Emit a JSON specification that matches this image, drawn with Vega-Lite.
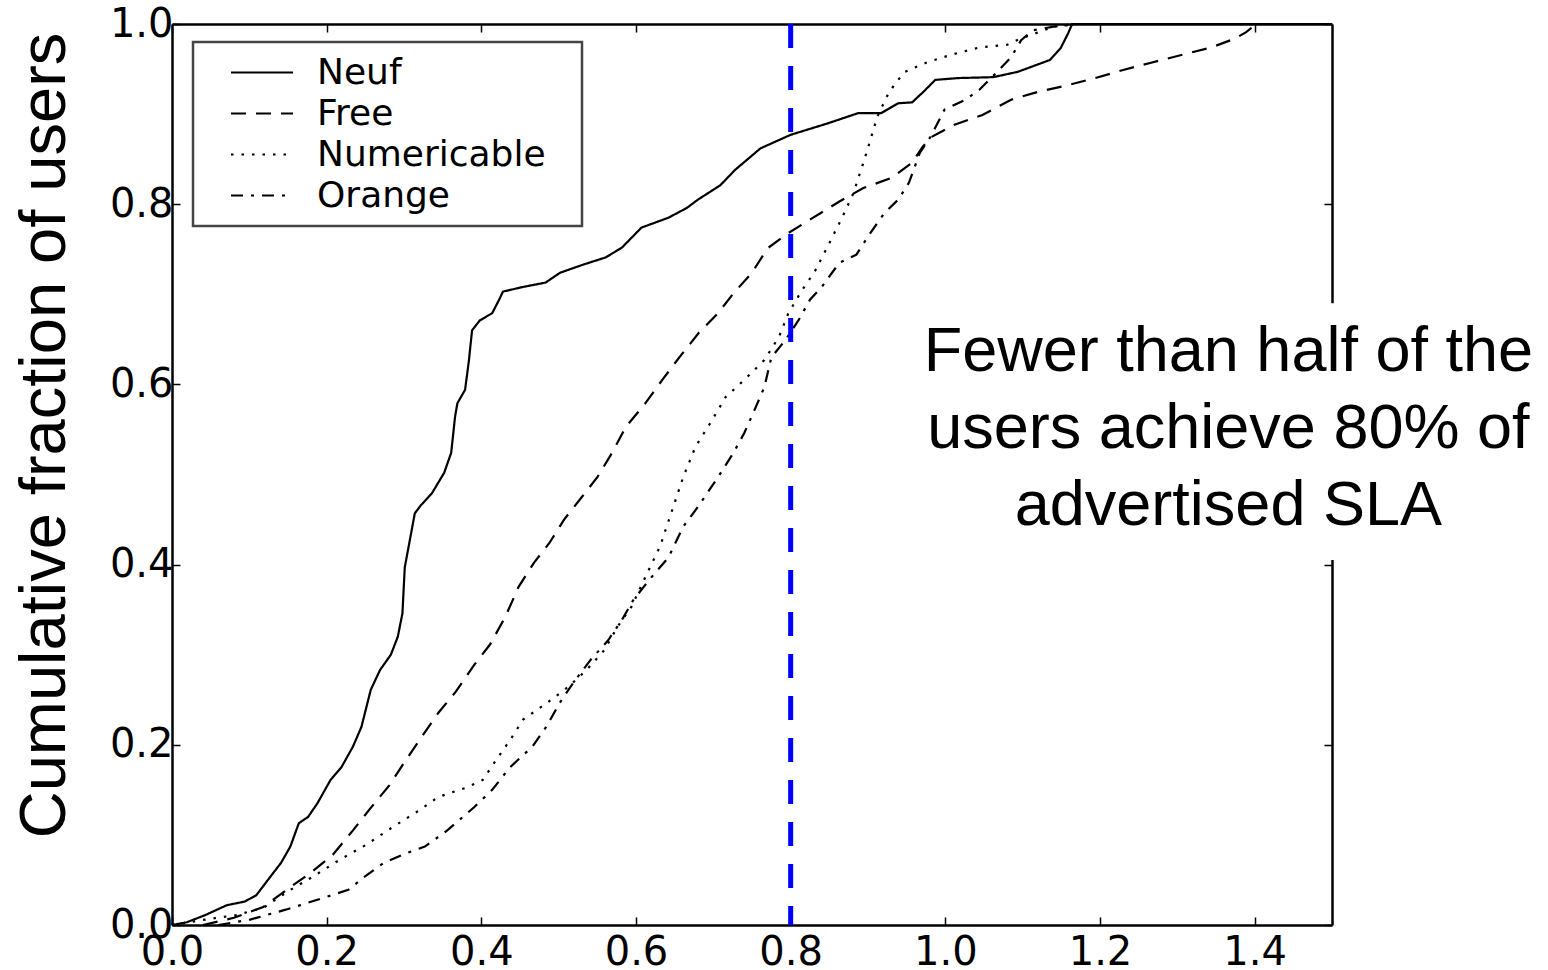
{
  "$schema": "https://vega.github.io/schema/vega-lite/v6.json",
  "width": 1160,
  "height": 901,
  "autosize": {"type": "none"},
  "padding": {"left": 172, "top": 24, "right": 216, "bottom": 45},
  "background": "white",
  "config": {
    "view": {"stroke": null},
    "axis": {
      "domainColor": "#000", "domainWidth": 2.5,
      "tickColor": "#000", "tickWidth": 1.5, "tickSize": -8,
      "labelFont": "DejaVu Sans", "labelFontSize": 40, "labelColor": "#000",
      "grid": false
    },
    "legend": {
      "orient": "none", "legendX": 21, "legendY": 18,
      "symbolType": "stroke", "symbolSize": 3844, "symbolStrokeWidth": 2, "symbolStrokeColor": "#000",
      "labelFont": "DejaVu Sans", "labelFontSize": 36, "labelColor": "#000", "labelLimit": 500,
      "labelOffset": 23, "symbolOffset": 27,
      "padding": 10, "rowPadding": 0, "clipHeight": 41,
      "strokeColor": "#444", "strokeWidth": 2.5, "fillColor": "white"
    }
  },
  "resolve": {"axis": {"x": "independent", "y": "independent"}},
  "layer": [
    {
      "data": {"values": [
        {"isp":"Neuf","x":0,"f":0},{"isp":"Neuf","x":0.019,"f":0.003},{"isp":"Neuf","x":0.043,"f":0.011},{"isp":"Neuf","x":0.071,"f":0.022},{"isp":"Neuf","x":0.094,"f":0.026},{"isp":"Neuf","x":0.109,"f":0.033},{"isp":"Neuf","x":0.124,"f":0.05},{"isp":"Neuf","x":0.141,"f":0.069},{"isp":"Neuf","x":0.153,"f":0.087},{"isp":"Neuf","x":0.164,"f":0.113},{"isp":"Neuf","x":0.176,"f":0.12},{"isp":"Neuf","x":0.188,"f":0.135},{"isp":"Neuf","x":0.205,"f":0.161},{"isp":"Neuf","x":0.219,"f":0.175},{"isp":"Neuf","x":0.234,"f":0.198},{"isp":"Neuf","x":0.245,"f":0.22},{"isp":"Neuf","x":0.257,"f":0.261},{"isp":"Neuf","x":0.269,"f":0.283},{"isp":"Neuf","x":0.283,"f":0.3},{"isp":"Neuf","x":0.292,"f":0.32},{"isp":"Neuf","x":0.298,"f":0.346},{"isp":"Neuf","x":0.301,"f":0.397},{"isp":"Neuf","x":0.314,"f":0.457},{"isp":"Neuf","x":0.322,"f":0.466},{"isp":"Neuf","x":0.336,"f":0.479},{"isp":"Neuf","x":0.352,"f":0.502},{"isp":"Neuf","x":0.361,"f":0.524},{"isp":"Neuf","x":0.366,"f":0.564},{"isp":"Neuf","x":0.369,"f":0.579},{"isp":"Neuf","x":0.379,"f":0.594},{"isp":"Neuf","x":0.384,"f":0.627},{"isp":"Neuf","x":0.388,"f":0.66},{"isp":"Neuf","x":0.398,"f":0.671},{"isp":"Neuf","x":0.414,"f":0.679},{"isp":"Neuf","x":0.423,"f":0.694},{"isp":"Neuf","x":0.428,"f":0.703},{"isp":"Neuf","x":0.453,"f":0.708},{"isp":"Neuf","x":0.483,"f":0.713},{"isp":"Neuf","x":0.502,"f":0.724},{"isp":"Neuf","x":0.532,"f":0.733},{"isp":"Neuf","x":0.561,"f":0.741},{"isp":"Neuf","x":0.582,"f":0.752},{"isp":"Neuf","x":0.607,"f":0.774},{"isp":"Neuf","x":0.642,"f":0.785},{"isp":"Neuf","x":0.666,"f":0.796},{"isp":"Neuf","x":0.68,"f":0.805},{"isp":"Neuf","x":0.709,"f":0.821},{"isp":"Neuf","x":0.728,"f":0.838},{"isp":"Neuf","x":0.761,"f":0.862},{"isp":"Neuf","x":0.8,"f":0.877},{"isp":"Neuf","x":0.849,"f":0.89},{"isp":"Neuf","x":0.887,"f":0.901},{"isp":"Neuf","x":0.917,"f":0.901},{"isp":"Neuf","x":0.939,"f":0.912},{"isp":"Neuf","x":0.957,"f":0.913},{"isp":"Neuf","x":0.972,"f":0.925},{"isp":"Neuf","x":0.987,"f":0.938},{"isp":"Neuf","x":1.017,"f":0.94},{"isp":"Neuf","x":1.062,"f":0.941},{"isp":"Neuf","x":1.094,"f":0.947},{"isp":"Neuf","x":1.135,"f":0.96},{"isp":"Neuf","x":1.149,"f":0.973},{"isp":"Neuf","x":1.159,"f":0.99},{"isp":"Neuf","x":1.164,"f":1.0},{"isp":"Neuf","x":1.5,"f":1.0},
        {"isp":"Free","x":0.04,"f":0},{"isp":"Free","x":0.08,"f":0.008},{"isp":"Free","x":0.118,"f":0.02},{"isp":"Free","x":0.153,"f":0.042},{"isp":"Free","x":0.181,"f":0.059},{"isp":"Free","x":0.208,"f":0.078},{"isp":"Free","x":0.234,"f":0.105},{"isp":"Free","x":0.257,"f":0.13},{"isp":"Free","x":0.281,"f":0.155},{"isp":"Free","x":0.3,"f":0.18},{"isp":"Free","x":0.323,"f":0.209},{"isp":"Free","x":0.344,"f":0.235},{"isp":"Free","x":0.367,"f":0.259},{"isp":"Free","x":0.391,"f":0.289},{"isp":"Free","x":0.411,"f":0.311},{"isp":"Free","x":0.431,"f":0.342},{"isp":"Free","x":0.448,"f":0.375},{"isp":"Free","x":0.468,"f":0.402},{"isp":"Free","x":0.488,"f":0.424},{"isp":"Free","x":0.507,"f":0.45},{"isp":"Free","x":0.53,"f":0.475},{"isp":"Free","x":0.55,"f":0.497},{"isp":"Free","x":0.569,"f":0.524},{"isp":"Free","x":0.587,"f":0.553},{"isp":"Free","x":0.612,"f":0.579},{"isp":"Free","x":0.634,"f":0.605},{"isp":"Free","x":0.656,"f":0.63},{"isp":"Free","x":0.681,"f":0.657},{"isp":"Free","x":0.706,"f":0.679},{"isp":"Free","x":0.726,"f":0.701},{"isp":"Free","x":0.75,"f":0.724},{"isp":"Free","x":0.77,"f":0.751},{"isp":"Free","x":0.797,"f":0.768},{"isp":"Free","x":0.827,"f":0.784},{"isp":"Free","x":0.863,"f":0.803},{"isp":"Free","x":0.894,"f":0.818},{"isp":"Free","x":0.93,"f":0.829},{"isp":"Free","x":0.957,"f":0.846},{"isp":"Free","x":0.971,"f":0.864},{"isp":"Free","x":0.983,"f":0.875},{"isp":"Free","x":1.011,"f":0.888},{"isp":"Free","x":1.048,"f":0.899},{"isp":"Free","x":1.085,"f":0.916},{"isp":"Free","x":1.121,"f":0.925},{"isp":"Free","x":1.158,"f":0.932},{"isp":"Free","x":1.194,"f":0.94},{"isp":"Free","x":1.23,"f":0.949},{"isp":"Free","x":1.266,"f":0.957},{"isp":"Free","x":1.307,"f":0.966},{"isp":"Free","x":1.344,"f":0.974},{"isp":"Free","x":1.375,"f":0.984},{"isp":"Free","x":1.389,"f":0.991},{"isp":"Free","x":1.402,"f":1.0},{"isp":"Free","x":1.5,"f":1.0},
        {"isp":"Numericable","x":0,"f":0},{"isp":"Numericable","x":0.043,"f":0.006},{"isp":"Numericable","x":0.083,"f":0.011},{"isp":"Numericable","x":0.118,"f":0.019},{"isp":"Numericable","x":0.153,"f":0.039},{"isp":"Numericable","x":0.181,"f":0.053},{"isp":"Numericable","x":0.216,"f":0.072},{"isp":"Numericable","x":0.251,"f":0.089},{"isp":"Numericable","x":0.286,"f":0.109},{"isp":"Numericable","x":0.321,"f":0.128},{"isp":"Numericable","x":0.344,"f":0.142},{"isp":"Numericable","x":0.379,"f":0.152},{"isp":"Numericable","x":0.402,"f":0.161},{"isp":"Numericable","x":0.419,"f":0.183},{"isp":"Numericable","x":0.437,"f":0.205},{"isp":"Numericable","x":0.454,"f":0.228},{"isp":"Numericable","x":0.484,"f":0.246},{"isp":"Numericable","x":0.512,"f":0.264},{"isp":"Numericable","x":0.536,"f":0.283},{"isp":"Numericable","x":0.559,"f":0.305},{"isp":"Numericable","x":0.576,"f":0.331},{"isp":"Numericable","x":0.594,"f":0.353},{"isp":"Numericable","x":0.612,"f":0.386},{"isp":"Numericable","x":0.631,"f":0.42},{"isp":"Numericable","x":0.647,"f":0.461},{"isp":"Numericable","x":0.661,"f":0.497},{"isp":"Numericable","x":0.677,"f":0.531},{"isp":"Numericable","x":0.696,"f":0.557},{"isp":"Numericable","x":0.716,"f":0.586},{"isp":"Numericable","x":0.74,"f":0.605},{"isp":"Numericable","x":0.766,"f":0.627},{"isp":"Numericable","x":0.785,"f":0.653},{"isp":"Numericable","x":0.797,"f":0.679},{"isp":"Numericable","x":0.815,"f":0.705},{"isp":"Numericable","x":0.831,"f":0.725},{"isp":"Numericable","x":0.849,"f":0.755},{"isp":"Numericable","x":0.867,"f":0.786},{"isp":"Numericable","x":0.881,"f":0.812},{"isp":"Numericable","x":0.894,"f":0.846},{"isp":"Numericable","x":0.903,"f":0.871},{"isp":"Numericable","x":0.912,"f":0.897},{"isp":"Numericable","x":0.924,"f":0.919},{"isp":"Numericable","x":0.935,"f":0.934},{"isp":"Numericable","x":0.948,"f":0.947},{"isp":"Numericable","x":0.975,"f":0.957},{"isp":"Numericable","x":1.008,"f":0.966},{"isp":"Numericable","x":1.044,"f":0.974},{"isp":"Numericable","x":1.08,"f":0.977},{"isp":"Numericable","x":1.098,"f":0.984},{"isp":"Numericable","x":1.121,"f":0.991},{"isp":"Numericable","x":1.14,"f":0.997},{"isp":"Numericable","x":1.167,"f":1.0},{"isp":"Numericable","x":1.5,"f":1.0},
        {"isp":"Orange","x":0.06,"f":0},{"isp":"Orange","x":0.101,"f":0.006},{"isp":"Orange","x":0.147,"f":0.017},{"isp":"Orange","x":0.188,"f":0.028},{"isp":"Orange","x":0.228,"f":0.039},{"isp":"Orange","x":0.248,"f":0.053},{"isp":"Orange","x":0.274,"f":0.069},{"isp":"Orange","x":0.304,"f":0.08},{"isp":"Orange","x":0.327,"f":0.087},{"isp":"Orange","x":0.356,"f":0.105},{"isp":"Orange","x":0.391,"f":0.131},{"isp":"Orange","x":0.414,"f":0.15},{"isp":"Orange","x":0.437,"f":0.175},{"isp":"Orange","x":0.466,"f":0.198},{"isp":"Orange","x":0.484,"f":0.22},{"isp":"Orange","x":0.501,"f":0.246},{"isp":"Orange","x":0.519,"f":0.269},{"isp":"Orange","x":0.541,"f":0.294},{"isp":"Orange","x":0.564,"f":0.316},{"isp":"Orange","x":0.582,"f":0.339},{"isp":"Orange","x":0.596,"f":0.36},{"isp":"Orange","x":0.617,"f":0.383},{"isp":"Orange","x":0.642,"f":0.408},{"isp":"Orange","x":0.661,"f":0.442},{"isp":"Orange","x":0.68,"f":0.464},{"isp":"Orange","x":0.706,"f":0.497},{"isp":"Orange","x":0.726,"f":0.524},{"isp":"Orange","x":0.74,"f":0.546},{"isp":"Orange","x":0.755,"f":0.575},{"isp":"Orange","x":0.766,"f":0.597},{"isp":"Orange","x":0.775,"f":0.63},{"isp":"Orange","x":0.793,"f":0.649},{"isp":"Orange","x":0.81,"f":0.671},{"isp":"Orange","x":0.825,"f":0.694},{"isp":"Orange","x":0.84,"f":0.708},{"isp":"Orange","x":0.863,"f":0.735},{"isp":"Orange","x":0.885,"f":0.744},{"isp":"Orange","x":0.903,"f":0.768},{"isp":"Orange","x":0.921,"f":0.79},{"isp":"Orange","x":0.939,"f":0.805},{"isp":"Orange","x":0.953,"f":0.824},{"isp":"Orange","x":0.967,"f":0.857},{"isp":"Orange","x":0.981,"f":0.875},{"isp":"Orange","x":0.999,"f":0.905},{"isp":"Orange","x":1.026,"f":0.916},{"isp":"Orange","x":1.044,"f":0.927},{"isp":"Orange","x":1.066,"f":0.946},{"isp":"Orange","x":1.085,"f":0.963},{"isp":"Orange","x":1.098,"f":0.982},{"isp":"Orange","x":1.113,"f":0.993},{"isp":"Orange","x":1.14,"f":0.997},{"isp":"Orange","x":1.17,"f":1.0},{"isp":"Orange","x":1.5,"f":1.0}
      ]},
      "mark": {"type": "line", "color": "#000", "strokeWidth": 2.2},
      "encoding": {
        "x": {"field": "x", "type": "quantitative",
              "scale": {"domain": [0, 1.5], "nice": false, "zero": false},
              "axis": {"orient": "bottom", "title": null, "values": [0, 0.2, 0.4, 0.6, 0.8, 1.0, 1.2, 1.4], "format": ".1f", "labelPadding": 15, "labelFlush": false, "labelOverlap": false}},
        "y": {"field": "f", "type": "quantitative",
              "scale": {"domain": [0, 1], "nice": false},
              "axis": {"orient": "left", "values": [0, 0.2, 0.4, 0.6, 0.8, 1.0], "format": ".1f", "labelPadding": 7, "labelOverlap": false, "labelFlush": false,
                       "title": "Cumulative fraction of users", "titleFont": "Liberation Sans", "titleFontSize": 65, "titleFontWeight": "normal", "titleColor": "#000",
                       "titleAngle": 270, "titleAlign": "center", "titleBaseline": "alphabetic", "titleX": -108, "titleY": 411}},
        "strokeDash": {"field": "isp", "type": "nominal",
                       "scale": {"domain": ["Neuf", "Free", "Numericable", "Orange"], "range": [[1, 0], [15, 10], [2.5, 8], [12, 8, 3, 8]]},
                       "legend": {"title": null, "labelExpr": "datum.label + '\u2800'"}},
        "order": {"field": "x", "type": "quantitative"}
      }
    },
    {
      "data": {"values": [{"sla": 0.8}]},
      "mark": {"type": "rule", "color": "#0000ff", "strokeWidth": 5, "strokeDash": [24, 18]},
      "encoding": {
        "x": {"field": "sla", "type": "quantitative", "axis": {"orient": "top", "title": null, "labels": false, "values": [0, 0.2, 0.4, 0.6, 0.8, 1.0, 1.2, 1.4]}}
      }
    },
    {
      "data": {"values": [{}]},
      "mark": {"type": "rect", "fill": "white"},
      "encoding": {
        "x": {"datum": 0.95, "type": "quantitative", "axis": null},
        "x2": {"datum": 1.78},
        "y": {"datum": 0.405, "type": "quantitative", "axis": {"orient": "right", "title": null, "labels": false, "values": [0, 0.2, 0.4, 0.6, 0.8, 1.0]}},
        "y2": {"datum": 0.69}
      }
    },
    {
      "data": {"values": [{}]},
      "mark": {"type": "text", "text": ["Fewer than half of the", "users achieve 80% of", "advertised SLA"],
               "font": "Liberation Sans", "fontSize": 63, "lineHeight": 77, "align": "center", "baseline": "middle", "color": "#000"},
      "encoding": {
        "x": {"datum": 1.366, "type": "quantitative", "axis": null},
        "y": {"datum": 0.636, "type": "quantitative", "axis": null}
      }
    }
  ]
}
